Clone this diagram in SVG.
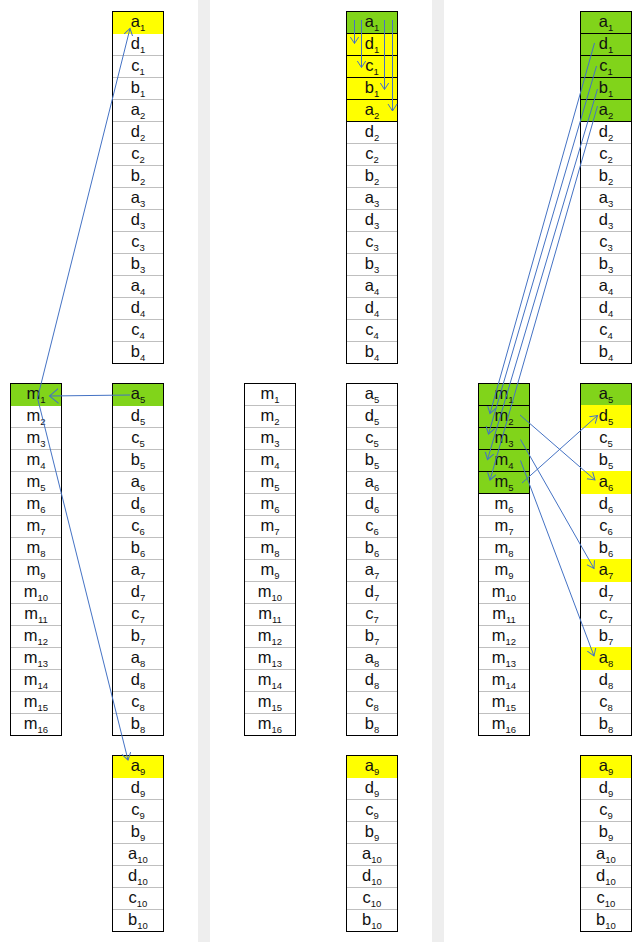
<svg xmlns="http://www.w3.org/2000/svg" xmlns:xlink="http://www.w3.org/1999/xlink" width="642" height="942" viewBox="0 0 642 942">
<style>
.bg{fill:#ffffff}
.fr{fill:none;stroke:#000000;stroke-width:1}
.y{fill:#ffff00}
.g{fill:#81d41a}
.sep{stroke:#bfbfbf;stroke-width:1}
.bs{stroke:#000000;stroke-width:1}
.bar{fill:#eeeeee}
text{font-family:"Liberation Sans",Arial,sans-serif;font-size:16.5px;fill:#111111;text-anchor:middle}
.s{font-size:9.5px}
.c{fill:none;stroke:#4472c4;stroke-width:1}
.a{marker-end:url(#ar)}
.ab{marker-end:url(#arb)}
</style>
<defs>
<marker id="ar" markerUnits="userSpaceOnUse" markerWidth="12" markerHeight="12" refX="7" refY="5" orient="auto">
<path d="M0,0.5 L7,5 L0,9.5" fill="none" stroke="#4472c4" stroke-width="1"/>
</marker>
<marker id="arb" markerUnits="userSpaceOnUse" markerWidth="14" markerHeight="18" refX="9" refY="8" orient="auto">
<path d="M0,0.5 L9,8 L0,15.5" fill="none" stroke="#4472c4" stroke-width="1"/>
</marker>
<g id="sep16" class="sep"><path d="M0,22H51M0,44H51M0,66H51M0,88H51M0,110H51M0,132H51M0,154H51M0,176H51M0,198H51M0,220H51M0,242H51M0,264H51M0,286H51M0,308H51M0,330H51"/></g>
<g id="sep8" class="sep"><path d="M0,22H51M0,44H51M0,66H51M0,88H51M0,110H51M0,132H51M0,154H51"/></g>
<g id="bsep5" class="bs"><path d="M0,22H51M0,44H51M0,66H51M0,88H51M0,110H51"/></g>
</defs>

<rect class="bar" x="198" y="0" width="12" height="942"/>
<rect class="bar" x="432" y="0" width="12" height="942"/>

<!-- ========== Panel 1 ========== -->
<g id="p1-top">
<rect class="bg" x="112.5" y="11.5" width="51" height="352"/>
<use xlink:href="#sep16" x="112.5" y="11.5"/>
<rect class="y" x="112.5" y="11" width="51" height="23"/>
<rect class="fr" x="112.5" y="11.5" width="51" height="352"/>
<text x="138" y="27">a<tspan class="s" dy="4">1</tspan></text>
<text x="138" y="49">d<tspan class="s" dy="4">1</tspan></text>
<text x="138" y="71">c<tspan class="s" dy="4">1</tspan></text>
<text x="138" y="93">b<tspan class="s" dy="4">1</tspan></text>
<text x="138" y="115">a<tspan class="s" dy="4">2</tspan></text>
<text x="138" y="137">d<tspan class="s" dy="4">2</tspan></text>
<text x="138" y="159">c<tspan class="s" dy="4">2</tspan></text>
<text x="138" y="181">b<tspan class="s" dy="4">2</tspan></text>
<text x="138" y="203">a<tspan class="s" dy="4">3</tspan></text>
<text x="138" y="225">d<tspan class="s" dy="4">3</tspan></text>
<text x="138" y="247">c<tspan class="s" dy="4">3</tspan></text>
<text x="138" y="269">b<tspan class="s" dy="4">3</tspan></text>
<text x="138" y="291">a<tspan class="s" dy="4">4</tspan></text>
<text x="138" y="313">d<tspan class="s" dy="4">4</tspan></text>
<text x="138" y="335">c<tspan class="s" dy="4">4</tspan></text>
<text x="138" y="357">b<tspan class="s" dy="4">4</tspan></text>
</g>

<g id="p1-mid">
<rect class="bg" x="112.5" y="383.5" width="51" height="352"/>
<use xlink:href="#sep16" x="112.5" y="383.5"/>
<rect class="g" x="112.5" y="383" width="51" height="23"/>
<rect class="fr" x="112.5" y="383.5" width="51" height="352"/>
<text x="138" y="399">a<tspan class="s" dy="4">5</tspan></text>
<text x="138" y="421">d<tspan class="s" dy="4">5</tspan></text>
<text x="138" y="443">c<tspan class="s" dy="4">5</tspan></text>
<text x="138" y="465">b<tspan class="s" dy="4">5</tspan></text>
<text x="138" y="487">a<tspan class="s" dy="4">6</tspan></text>
<text x="138" y="509">d<tspan class="s" dy="4">6</tspan></text>
<text x="138" y="531">c<tspan class="s" dy="4">6</tspan></text>
<text x="138" y="553">b<tspan class="s" dy="4">6</tspan></text>
<text x="138" y="575">a<tspan class="s" dy="4">7</tspan></text>
<text x="138" y="597">d<tspan class="s" dy="4">7</tspan></text>
<text x="138" y="619">c<tspan class="s" dy="4">7</tspan></text>
<text x="138" y="641">b<tspan class="s" dy="4">7</tspan></text>
<text x="138" y="663">a<tspan class="s" dy="4">8</tspan></text>
<text x="138" y="685">d<tspan class="s" dy="4">8</tspan></text>
<text x="138" y="707">c<tspan class="s" dy="4">8</tspan></text>
<text x="138" y="729">b<tspan class="s" dy="4">8</tspan></text>
</g>

<g id="p1-bot">
<rect class="bg" x="112.5" y="755.5" width="51" height="176"/>
<use xlink:href="#sep8" x="112.5" y="755.5"/>
<rect class="y" x="112.5" y="755" width="51" height="23"/>
<rect class="fr" x="112.5" y="755.5" width="51" height="176"/>
<text x="138" y="771">a<tspan class="s" dy="4">9</tspan></text>
<text x="138" y="793">d<tspan class="s" dy="4">9</tspan></text>
<text x="138" y="815">c<tspan class="s" dy="4">9</tspan></text>
<text x="138" y="837">b<tspan class="s" dy="4">9</tspan></text>
<text x="138" y="859">a<tspan class="s" dy="4">10</tspan></text>
<text x="138" y="881">d<tspan class="s" dy="4">10</tspan></text>
<text x="138" y="903">c<tspan class="s" dy="4">10</tspan></text>
<text x="138" y="925">b<tspan class="s" dy="4">10</tspan></text>
</g>

<g id="p1-m">
<rect class="bg" x="10.5" y="383.5" width="51" height="352"/>
<use xlink:href="#sep16" x="10.5" y="383.5"/>
<rect class="g" x="10.5" y="383" width="51" height="23"/>
<rect class="fr" x="10.5" y="383.5" width="51" height="352"/>
<text x="36" y="399">m<tspan class="s" dy="4">1</tspan></text>
<text x="36" y="421">m<tspan class="s" dy="4">2</tspan></text>
<text x="36" y="443">m<tspan class="s" dy="4">3</tspan></text>
<text x="36" y="465">m<tspan class="s" dy="4">4</tspan></text>
<text x="36" y="487">m<tspan class="s" dy="4">5</tspan></text>
<text x="36" y="509">m<tspan class="s" dy="4">6</tspan></text>
<text x="36" y="531">m<tspan class="s" dy="4">7</tspan></text>
<text x="36" y="553">m<tspan class="s" dy="4">8</tspan></text>
<text x="36" y="575">m<tspan class="s" dy="4">9</tspan></text>
<text x="36" y="597">m<tspan class="s" dy="4">10</tspan></text>
<text x="36" y="619">m<tspan class="s" dy="4">11</tspan></text>
<text x="36" y="641">m<tspan class="s" dy="4">12</tspan></text>
<text x="36" y="663">m<tspan class="s" dy="4">13</tspan></text>
<text x="36" y="685">m<tspan class="s" dy="4">14</tspan></text>
<text x="36" y="707">m<tspan class="s" dy="4">15</tspan></text>
<text x="36" y="729">m<tspan class="s" dy="4">16</tspan></text>
</g>

<!-- ========== Panel 2 ========== -->
<g id="p2-top">
<rect class="bg" x="346.5" y="11.5" width="51" height="352"/>
<use xlink:href="#sep16" x="346.5" y="11.5"/>
<rect class="g" x="346.5" y="11" width="51" height="23"/>
<rect class="y" x="346.5" y="33" width="51" height="89"/>
<use xlink:href="#bsep5" x="346.5" y="11.5"/>
<rect class="fr" x="346.5" y="11.5" width="51" height="352"/>
<text x="372" y="27">a<tspan class="s" dy="4">1</tspan></text>
<text x="372" y="49">d<tspan class="s" dy="4">1</tspan></text>
<text x="372" y="71">c<tspan class="s" dy="4">1</tspan></text>
<text x="372" y="93">b<tspan class="s" dy="4">1</tspan></text>
<text x="372" y="115">a<tspan class="s" dy="4">2</tspan></text>
<text x="372" y="137">d<tspan class="s" dy="4">2</tspan></text>
<text x="372" y="159">c<tspan class="s" dy="4">2</tspan></text>
<text x="372" y="181">b<tspan class="s" dy="4">2</tspan></text>
<text x="372" y="203">a<tspan class="s" dy="4">3</tspan></text>
<text x="372" y="225">d<tspan class="s" dy="4">3</tspan></text>
<text x="372" y="247">c<tspan class="s" dy="4">3</tspan></text>
<text x="372" y="269">b<tspan class="s" dy="4">3</tspan></text>
<text x="372" y="291">a<tspan class="s" dy="4">4</tspan></text>
<text x="372" y="313">d<tspan class="s" dy="4">4</tspan></text>
<text x="372" y="335">c<tspan class="s" dy="4">4</tspan></text>
<text x="372" y="357">b<tspan class="s" dy="4">4</tspan></text>
</g>

<g id="p2-mid">
<rect class="bg" x="346.5" y="383.5" width="51" height="352"/>
<use xlink:href="#sep16" x="346.5" y="383.5"/>
<rect class="fr" x="346.5" y="383.5" width="51" height="352"/>
<text x="372" y="399">a<tspan class="s" dy="4">5</tspan></text>
<text x="372" y="421">d<tspan class="s" dy="4">5</tspan></text>
<text x="372" y="443">c<tspan class="s" dy="4">5</tspan></text>
<text x="372" y="465">b<tspan class="s" dy="4">5</tspan></text>
<text x="372" y="487">a<tspan class="s" dy="4">6</tspan></text>
<text x="372" y="509">d<tspan class="s" dy="4">6</tspan></text>
<text x="372" y="531">c<tspan class="s" dy="4">6</tspan></text>
<text x="372" y="553">b<tspan class="s" dy="4">6</tspan></text>
<text x="372" y="575">a<tspan class="s" dy="4">7</tspan></text>
<text x="372" y="597">d<tspan class="s" dy="4">7</tspan></text>
<text x="372" y="619">c<tspan class="s" dy="4">7</tspan></text>
<text x="372" y="641">b<tspan class="s" dy="4">7</tspan></text>
<text x="372" y="663">a<tspan class="s" dy="4">8</tspan></text>
<text x="372" y="685">d<tspan class="s" dy="4">8</tspan></text>
<text x="372" y="707">c<tspan class="s" dy="4">8</tspan></text>
<text x="372" y="729">b<tspan class="s" dy="4">8</tspan></text>
</g>

<g id="p2-bot">
<rect class="bg" x="346.5" y="755.5" width="51" height="176"/>
<use xlink:href="#sep8" x="346.5" y="755.5"/>
<rect class="y" x="346.5" y="755" width="51" height="23"/>
<rect class="fr" x="346.5" y="755.5" width="51" height="176"/>
<text x="372" y="771">a<tspan class="s" dy="4">9</tspan></text>
<text x="372" y="793">d<tspan class="s" dy="4">9</tspan></text>
<text x="372" y="815">c<tspan class="s" dy="4">9</tspan></text>
<text x="372" y="837">b<tspan class="s" dy="4">9</tspan></text>
<text x="372" y="859">a<tspan class="s" dy="4">10</tspan></text>
<text x="372" y="881">d<tspan class="s" dy="4">10</tspan></text>
<text x="372" y="903">c<tspan class="s" dy="4">10</tspan></text>
<text x="372" y="925">b<tspan class="s" dy="4">10</tspan></text>
</g>

<g id="p2-m">
<rect class="bg" x="244.5" y="383.5" width="51" height="352"/>
<use xlink:href="#sep16" x="244.5" y="383.5"/>
<rect class="fr" x="244.5" y="383.5" width="51" height="352"/>
<text x="270" y="399">m<tspan class="s" dy="4">1</tspan></text>
<text x="270" y="421">m<tspan class="s" dy="4">2</tspan></text>
<text x="270" y="443">m<tspan class="s" dy="4">3</tspan></text>
<text x="270" y="465">m<tspan class="s" dy="4">4</tspan></text>
<text x="270" y="487">m<tspan class="s" dy="4">5</tspan></text>
<text x="270" y="509">m<tspan class="s" dy="4">6</tspan></text>
<text x="270" y="531">m<tspan class="s" dy="4">7</tspan></text>
<text x="270" y="553">m<tspan class="s" dy="4">8</tspan></text>
<text x="270" y="575">m<tspan class="s" dy="4">9</tspan></text>
<text x="270" y="597">m<tspan class="s" dy="4">10</tspan></text>
<text x="270" y="619">m<tspan class="s" dy="4">11</tspan></text>
<text x="270" y="641">m<tspan class="s" dy="4">12</tspan></text>
<text x="270" y="663">m<tspan class="s" dy="4">13</tspan></text>
<text x="270" y="685">m<tspan class="s" dy="4">14</tspan></text>
<text x="270" y="707">m<tspan class="s" dy="4">15</tspan></text>
<text x="270" y="729">m<tspan class="s" dy="4">16</tspan></text>
</g>

<!-- ========== Panel 3 ========== -->
<g id="p3-top">
<rect class="bg" x="580.5" y="11.5" width="51" height="352"/>
<use xlink:href="#sep16" x="580.5" y="11.5"/>
<rect class="g" x="580.5" y="11" width="51" height="111"/>
<use xlink:href="#bsep5" x="580.5" y="11.5"/>
<rect class="fr" x="580.5" y="11.5" width="51" height="352"/>
<text x="606" y="27">a<tspan class="s" dy="4">1</tspan></text>
<text x="606" y="49">d<tspan class="s" dy="4">1</tspan></text>
<text x="606" y="71">c<tspan class="s" dy="4">1</tspan></text>
<text x="606" y="93">b<tspan class="s" dy="4">1</tspan></text>
<text x="606" y="115">a<tspan class="s" dy="4">2</tspan></text>
<text x="606" y="137">d<tspan class="s" dy="4">2</tspan></text>
<text x="606" y="159">c<tspan class="s" dy="4">2</tspan></text>
<text x="606" y="181">b<tspan class="s" dy="4">2</tspan></text>
<text x="606" y="203">a<tspan class="s" dy="4">3</tspan></text>
<text x="606" y="225">d<tspan class="s" dy="4">3</tspan></text>
<text x="606" y="247">c<tspan class="s" dy="4">3</tspan></text>
<text x="606" y="269">b<tspan class="s" dy="4">3</tspan></text>
<text x="606" y="291">a<tspan class="s" dy="4">4</tspan></text>
<text x="606" y="313">d<tspan class="s" dy="4">4</tspan></text>
<text x="606" y="335">c<tspan class="s" dy="4">4</tspan></text>
<text x="606" y="357">b<tspan class="s" dy="4">4</tspan></text>
</g>

<g id="p3-mid">
<rect class="bg" x="580.5" y="383.5" width="51" height="352"/>
<use xlink:href="#sep16" x="580.5" y="383.5"/>
<rect class="g" x="580.5" y="383" width="51" height="23"/>
<rect class="y" x="580.5" y="405" width="51" height="23"/>
<rect class="y" x="580.5" y="471" width="51" height="23"/>
<rect class="y" x="580.5" y="559" width="51" height="23"/>
<rect class="y" x="580.5" y="647" width="51" height="23"/>
<rect class="fr" x="580.5" y="383.5" width="51" height="352"/>
<text x="606" y="399">a<tspan class="s" dy="4">5</tspan></text>
<text x="606" y="421">d<tspan class="s" dy="4">5</tspan></text>
<text x="606" y="443">c<tspan class="s" dy="4">5</tspan></text>
<text x="606" y="465">b<tspan class="s" dy="4">5</tspan></text>
<text x="606" y="487">a<tspan class="s" dy="4">6</tspan></text>
<text x="606" y="509">d<tspan class="s" dy="4">6</tspan></text>
<text x="606" y="531">c<tspan class="s" dy="4">6</tspan></text>
<text x="606" y="553">b<tspan class="s" dy="4">6</tspan></text>
<text x="606" y="575">a<tspan class="s" dy="4">7</tspan></text>
<text x="606" y="597">d<tspan class="s" dy="4">7</tspan></text>
<text x="606" y="619">c<tspan class="s" dy="4">7</tspan></text>
<text x="606" y="641">b<tspan class="s" dy="4">7</tspan></text>
<text x="606" y="663">a<tspan class="s" dy="4">8</tspan></text>
<text x="606" y="685">d<tspan class="s" dy="4">8</tspan></text>
<text x="606" y="707">c<tspan class="s" dy="4">8</tspan></text>
<text x="606" y="729">b<tspan class="s" dy="4">8</tspan></text>
</g>

<g id="p3-bot">
<rect class="bg" x="580.5" y="755.5" width="51" height="176"/>
<use xlink:href="#sep8" x="580.5" y="755.5"/>
<rect class="y" x="580.5" y="755" width="51" height="23"/>
<rect class="fr" x="580.5" y="755.5" width="51" height="176"/>
<text x="606" y="771">a<tspan class="s" dy="4">9</tspan></text>
<text x="606" y="793">d<tspan class="s" dy="4">9</tspan></text>
<text x="606" y="815">c<tspan class="s" dy="4">9</tspan></text>
<text x="606" y="837">b<tspan class="s" dy="4">9</tspan></text>
<text x="606" y="859">a<tspan class="s" dy="4">10</tspan></text>
<text x="606" y="881">d<tspan class="s" dy="4">10</tspan></text>
<text x="606" y="903">c<tspan class="s" dy="4">10</tspan></text>
<text x="606" y="925">b<tspan class="s" dy="4">10</tspan></text>
</g>

<g id="p3-m">
<rect class="bg" x="478.5" y="383.5" width="51" height="352"/>
<use xlink:href="#sep16" x="478.5" y="383.5"/>
<rect class="g" x="478.5" y="383" width="51" height="111"/>
<use xlink:href="#bsep5" x="478.5" y="383.5"/>
<rect class="fr" x="478.5" y="383.5" width="51" height="352"/>
<text x="504" y="399">m<tspan class="s" dy="4">1</tspan></text>
<text x="504" y="421">m<tspan class="s" dy="4">2</tspan></text>
<text x="504" y="443">m<tspan class="s" dy="4">3</tspan></text>
<text x="504" y="465">m<tspan class="s" dy="4">4</tspan></text>
<text x="504" y="487">m<tspan class="s" dy="4">5</tspan></text>
<text x="504" y="509">m<tspan class="s" dy="4">6</tspan></text>
<text x="504" y="531">m<tspan class="s" dy="4">7</tspan></text>
<text x="504" y="553">m<tspan class="s" dy="4">8</tspan></text>
<text x="504" y="575">m<tspan class="s" dy="4">9</tspan></text>
<text x="504" y="597">m<tspan class="s" dy="4">10</tspan></text>
<text x="504" y="619">m<tspan class="s" dy="4">11</tspan></text>
<text x="504" y="641">m<tspan class="s" dy="4">12</tspan></text>
<text x="504" y="663">m<tspan class="s" dy="4">13</tspan></text>
<text x="504" y="685">m<tspan class="s" dy="4">14</tspan></text>
<text x="504" y="707">m<tspan class="s" dy="4">15</tspan></text>
<text x="504" y="729">m<tspan class="s" dy="4">16</tspan></text>
</g>

<!-- ========== Connectors ========== -->
<g id="connectors">
<path class="c a" d="M37.5,398 L130,28.5"/>
<path class="c ab" d="M130,395 L49.5,396"/>
<path class="c a" d="M37.5,398 L128,760"/>

<path class="c a" d="M354.5,20 L354.5,43.5"/>
<path class="c a" d="M361.5,20 L361.5,67.5"/>
<path class="c a" d="M384.5,20 L384.5,89.5"/>
<path class="c a" d="M392.5,20 L392.5,111"/>

<path class="c a" d="M594.5,43 L490,413.5"/>
<path class="c a" d="M596.5,66 L488.5,434"/>
<path class="c a" d="M597.5,89 L487.5,459.5"/>
<path class="c a" d="M597.5,106 L490,480"/>
<path class="c a" d="M522,483 L597.5,415.5"/>
<path class="c a" d="M520,415 L595,480"/>
<path class="c a" d="M520.5,439.5 L594,568.5"/>
<path class="c a" d="M520.5,460.5 L594,656"/>
</g>
</svg>
